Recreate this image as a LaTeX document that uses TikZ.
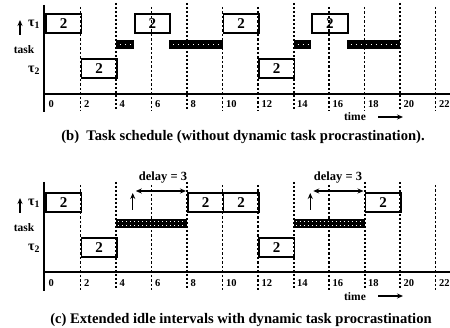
\documentclass[tikz,border=0pt]{standalone}
\usepackage{fontspec}
\setmainfont{Liberation Serif}
\usetikzlibrary{arrows.meta}
\begin{document}
\begin{tikzpicture}[x=1pt,y=-1pt,
  jobbox/.style={draw, line width=1.9pt, inner sep=0pt, minimum height=19pt, anchor=north west, font=\bfseries\fontsize{15}{15}\selectfont},
  idlebar/.style={fill=black, draw=none, inner sep=0pt, minimum height=9pt, anchor=north west},
  dashline/.style={line width=1.3pt, dash pattern=on 2.5pt off 2pt},
  thickdash/.style={line width=2pt, dash pattern=on 2.5pt off 1.5pt},
  ticklab/.style={anchor=west, inner sep=0pt, font=\bfseries\fontsize{10.5}{10.5}\selectfont},
  labtxt/.style={inner sep=0pt, font=\bfseries\fontsize{11.5}{11.5}\selectfont},
  taulab/.style={inner sep=0pt, font=\bfseries\fontsize{14}{14}\selectfont},
  delaytxt/.style={inner sep=0pt, font=\bfseries\fontsize{12.5}{12.5}\selectfont},
  captxt/.style={inner sep=0pt, font=\bfseries\fontsize{14.6}{14.6}\selectfont},
  arr/.style={line width=1.3pt, -{Stealth[length=6pt,width=5pt]}},
  darr/.style={line width=1.3pt, {Stealth[length=6pt,width=5pt]}-{Stealth[length=6pt,width=5pt]}}]
\useasboundingbox (0,0) rectangle (450,328);
\def\uu{17.75}
% ================= top chart =================
\foreach \k in {2,6,10,12,16,18,22} \draw[dashline] ({45+\uu*\k},7) -- ({45+\uu*\k},111);
\foreach \k in {4,8,14,20} \draw[thickdash] ({45+\uu*\k},3) -- ({45+\uu*\k},111);
\draw[line width=2pt] (44,5) -- (44,112);
\draw[line width=2pt] (43,94) -- (450,94);
% tau1 jobs
\node[jobbox, minimum width=35.5pt] (a1) at (45,13.5) {2};
\node[jobbox, minimum width=35.5pt] (a2) at ({45+\uu*5},13.5) {2};
\node[jobbox, minimum width=35.5pt] (a3) at ({45+\uu*10},13.5) {2};
\node[jobbox, minimum width=35.5pt] (a4) at ({45+\uu*15},13.5) {2};
% tau2 jobs
\node[jobbox, minimum width=35.5pt] (b1) at ({45+\uu*2},58.5) {2};
\node[jobbox, minimum width=35.5pt] (b2) at ({45+\uu*12},58.5) {2};
% idle
\node[idlebar, minimum width=17.75pt] (i1) at ({45+\uu*4},40) {};
\node[idlebar, minimum width=53.25pt] (i2) at ({45+\uu*7},40) {};
\node[idlebar, minimum width=17.75pt] (i3) at ({45+\uu*14},40) {};
\node[idlebar, minimum width=53.25pt] (i4) at ({45+\uu*17},40) {};
\foreach \nm in {i1,i2,i3,i4} \draw[white, line width=0.8pt, dash pattern=on 1pt off 4pt] ([xshift=4pt]\nm.west) -- ([xshift=-3pt]\nm.east);
% labels
\node[taulab] (t1a) at (34,24) {τ\textsubscript{1}};
\node[labtxt] (tka) at (24,50) {task};
\node[taulab] (t2a) at (34,70) {τ\textsubscript{2}};
\coordinate (ua0) at (20,35);
\coordinate (ua1) at (20,20);
\draw[arr] (ua0) -- (ua1);
\foreach \k in {0,2,...,22} \node[ticklab] at ({48.5+\uu*\k},104) {\k};
\node[labtxt] (tma) at (355,117) {time};
\coordinate (ta0) at (378,117);
\coordinate (ta1) at (403,117);
\draw[arr] (ta0) -- (ta1);
\node[captxt] (capb) at (243,137) {(b)\ \ Task schedule (without dynamic task procrastination).};
% ================= bottom chart =================
\foreach \k in {2,6,10,12,16,22} \draw[dashline] ({45+\uu*\k},185) -- ({45+\uu*\k},290);
\foreach \k in {4,8,14,18,20} \draw[thickdash] ({45+\uu*\k},182) -- ({45+\uu*\k},290);
\draw[line width=2pt] (44,182) -- (44,291);
\draw[line width=2pt] (43,272) -- (450,272);
% tau1 jobs
\node[jobbox, minimum width=35.5pt] (c1) at (45,192) {2};
\node[jobbox, minimum width=35.5pt] (c2) at ({45+\uu*8},192) {2};
\node[jobbox, minimum width=35.5pt] (c3) at ({45+\uu*10},192) {2};
\node[jobbox, minimum width=35.5pt] (c4) at ({45+\uu*18},192) {2};
% tau2 jobs
\node[jobbox, minimum width=35.5pt] (d1) at ({45+\uu*2},237) {2};
\node[jobbox, minimum width=35.5pt] (d2) at ({45+\uu*12},237) {2};
% idle
\node[idlebar, minimum width=71pt] (j1) at ({45+\uu*4},219) {};
\node[idlebar, minimum width=71pt] (j2) at ({45+\uu*14},219) {};
\foreach \nm in {j1,j2} {
  \draw[white, line width=0.8pt, dash pattern=on 1pt off 3pt] ([xshift=2pt,yshift=-2pt]\nm.west) -- ([xshift=-2pt,yshift=-2pt]\nm.east);
  \draw[white, line width=0.8pt, dash pattern=on 1pt off 3pt] ([xshift=2pt,yshift=2pt]\nm.west) -- ([xshift=-2pt,yshift=2pt]\nm.east);
}
% delays
\coordinate (p0) at ({45+\uu*5-1},210);
\coordinate (p1) at ({45+\uu*5-1},193);
\coordinate (p2) at ({45+\uu*5+2},191);
\coordinate (p3) at ({45+\uu*8-1},191);
\draw[arr] (p0) -- (p1);
\draw[darr] (p2) -- (p3);
\node[delaytxt] (dl1) at (163,178) {delay = 3};
\coordinate (q0) at ({45+\uu*15-1},210);
\coordinate (q1) at ({45+\uu*15-1},193);
\coordinate (q2) at ({45+\uu*15+2},191);
\coordinate (q3) at ({45+\uu*18-1},191);
\draw[arr] (q0) -- (q1);
\draw[darr] (q2) -- (q3);
\node[delaytxt] (dl2) at (338,178) {delay = 3};
% labels
\node[taulab] (t1b) at (34,203) {τ\textsubscript{1}};
\node[labtxt] (tkb) at (24,228) {task};
\node[taulab] (t2b) at (34,248) {τ\textsubscript{2}};
\coordinate (ub0) at (20,213);
\coordinate (ub1) at (20,198);
\draw[arr] (ub0) -- (ub1);
\foreach \k in {0,2,...,22} \node[ticklab] at ({48.5+\uu*\k},283) {\k};
\node[labtxt] (tmb) at (355,297) {time};
\coordinate (tb0) at (378,296);
\coordinate (tb1) at (403,296);
\draw[arr] (tb0) -- (tb1);
\node[captxt] (capc) at (241,320) {(c) Extended idle intervals with dynamic task procrastination};
\end{tikzpicture}
\end{document}
